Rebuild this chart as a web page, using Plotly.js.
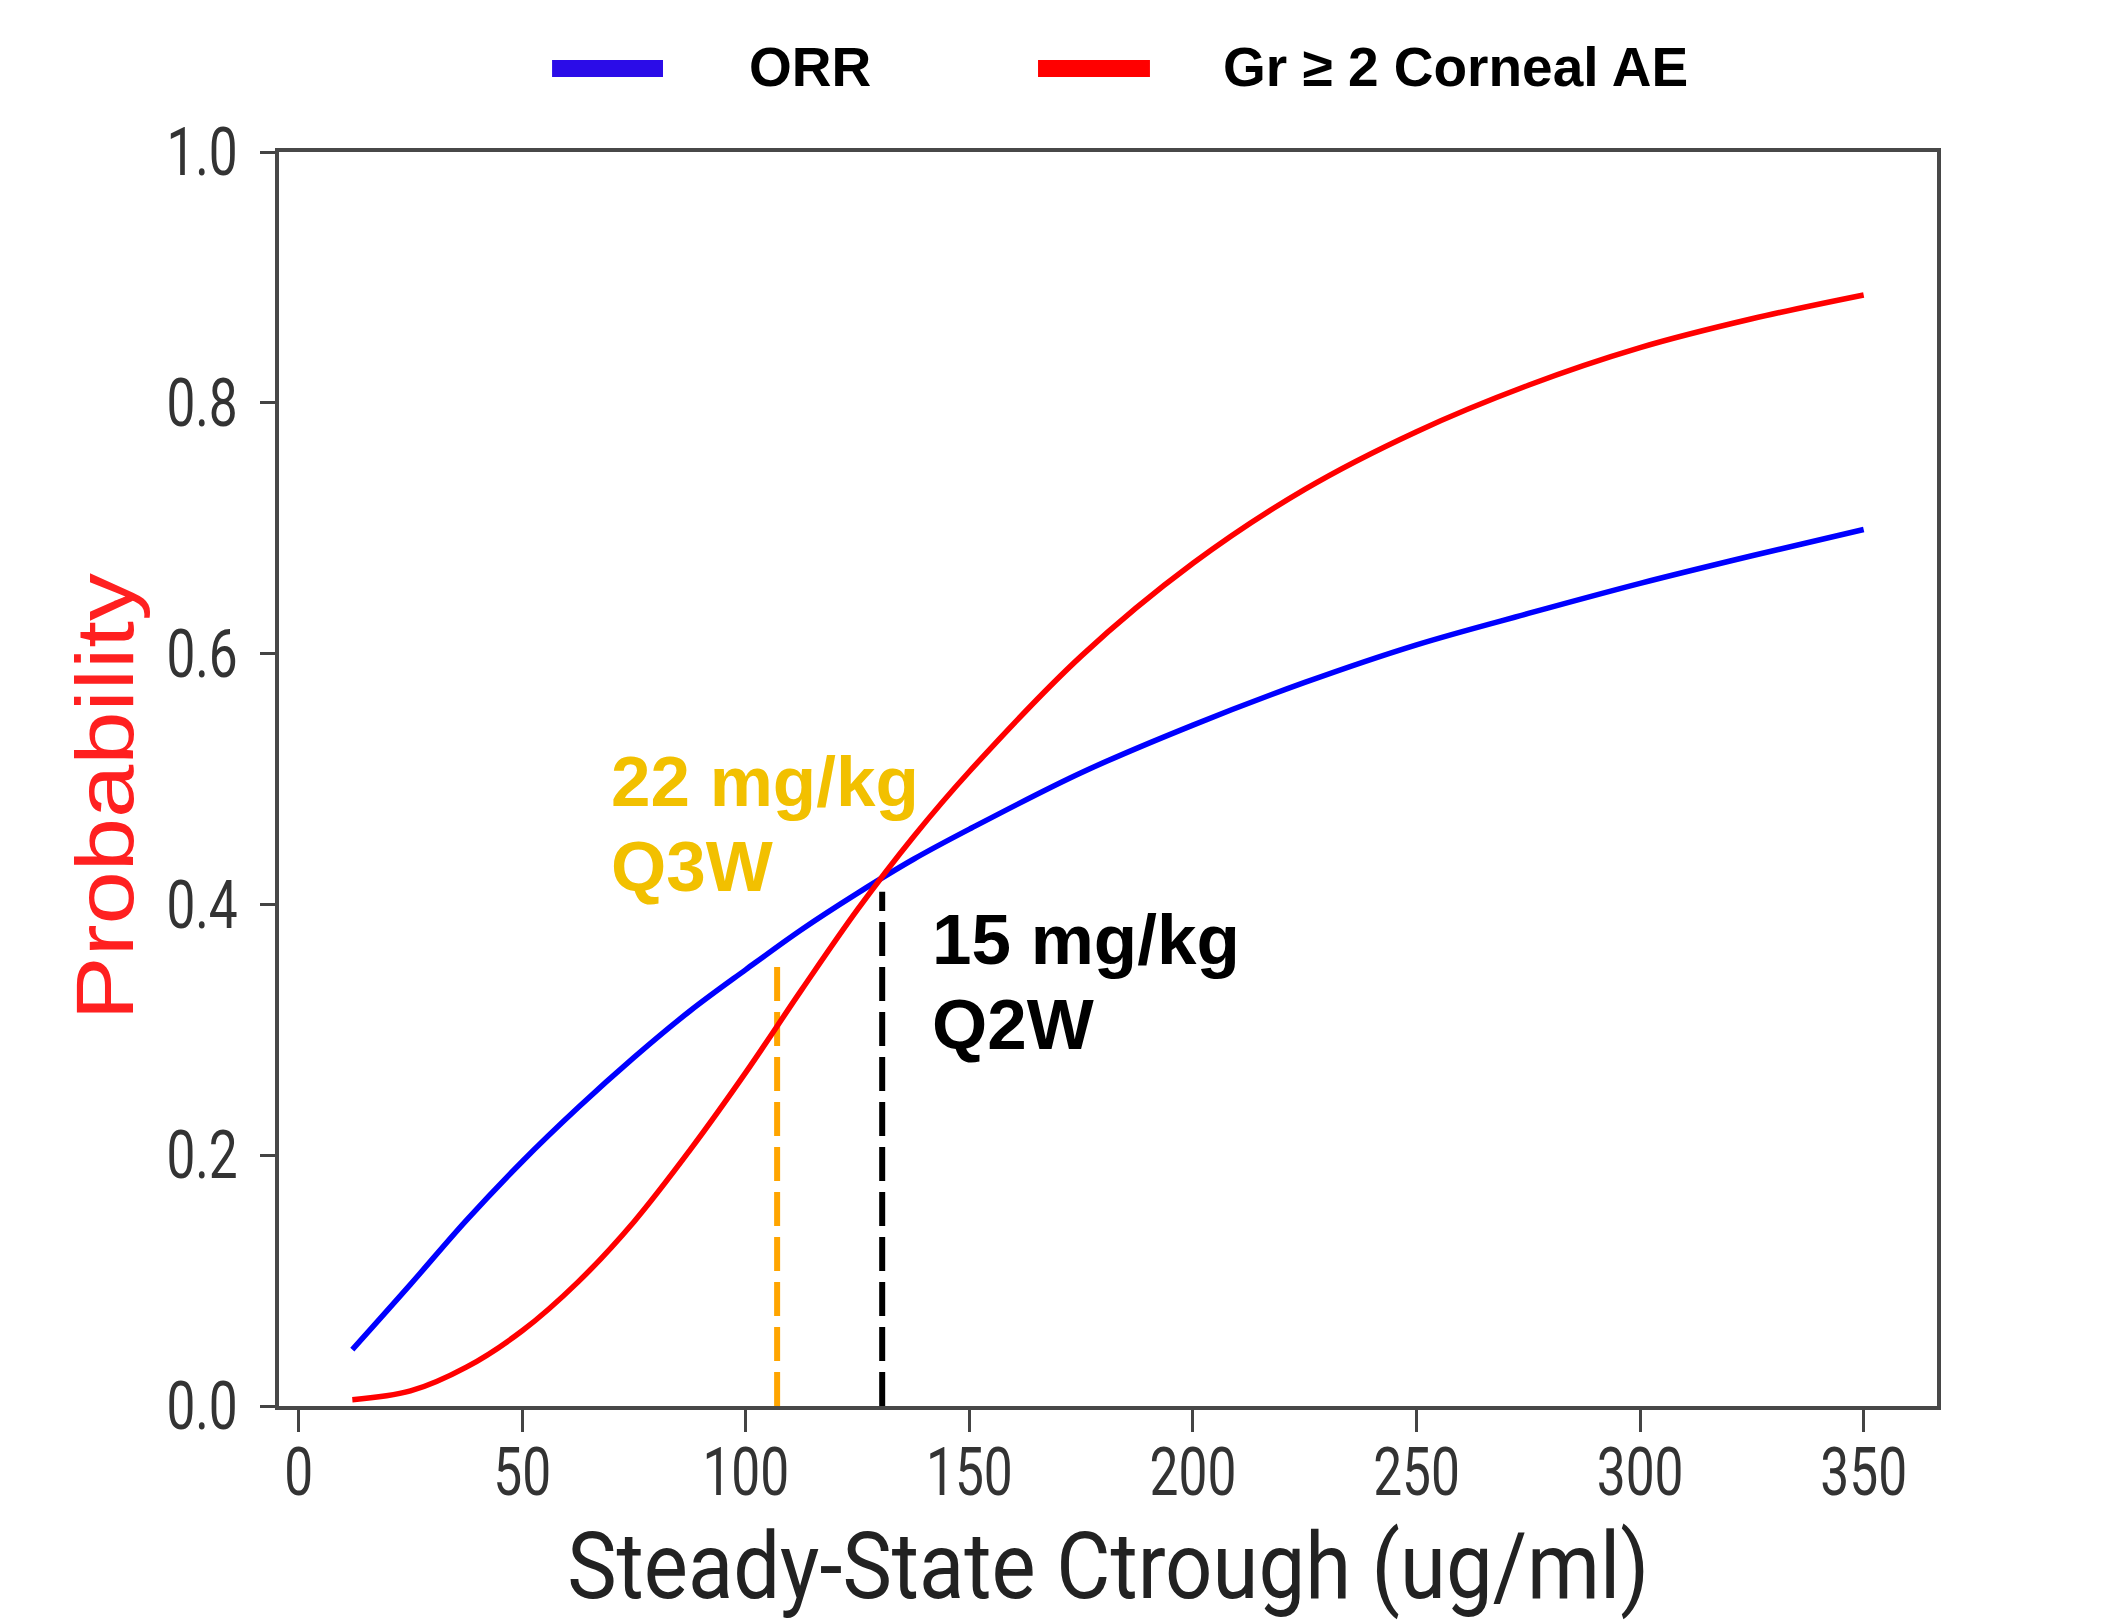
<!DOCTYPE html>
<html>
<head>
<meta charset="utf-8">
<script src="https://cdn.plot.ly/plotly-3.0.1.min.js"></script>
<style>
html, body { margin: 0; padding: 0; background: #ffffff; }
#chart { width: 2104px; height: 1624px; }
</style>
</head>
<body>
<div id="chart"></div>
<script>
// ---------------- data ----------------
const ctrough = [12, 25, 37.5, 50, 62.5, 75, 87.5, 100, 112.5, 125, 137.5, 150, 175, 200, 225, 250, 275, 300, 325, 350];
const orrProb = [0.045, 0.097, 0.148, 0.195, 0.238, 0.278, 0.315, 0.348, 0.380, 0.409, 0.436, 0.460, 0.505, 0.543, 0.577, 0.607, 0.632, 0.656, 0.678, 0.699];
const aeProb  = [0.005, 0.012, 0.031, 0.060, 0.099, 0.147, 0.204, 0.266, 0.332, 0.396, 0.454, 0.506, 0.598, 0.672, 0.731, 0.777, 0.814, 0.844, 0.867, 0.886];

const seriesNames  = ['ORR', 'Gr \u2265 2 Corneal AE'];
const seriesColors = ['#0000FF', '#FF0000'];
const legendColors = ['#2B0CE8', '#FF0000'];

const doseNames      = ['22 mg/kg Q3W', '15 mg/kg Q2W'];
const doseLabelLine1 = ['22 mg/kg', '15 mg/kg'];
const doseLabelLine2 = ['Q3W', 'Q2W'];
const doseCtrough    = [107, 130.5];
const doseTopProb    = [0.356, 0.41];
const doseLineColors = ['#FFA500', '#000000'];
const doseTextColors = ['#F2C000', '#000000'];

const xTickVals = [0, 50, 100, 150, 200, 250, 300, 350];
const yTickVals = [0.0, 0.2, 0.4, 0.6, 0.8, 1.0];
const xTitle = 'Steady-State Ctrough (ug/ml)';
const yTitle = 'Probability';

// ---------------- traces ----------------
const traces = [];
doseCtrough.forEach(function (c, i) {
  traces.push({
    type: 'scatter', mode: 'lines', name: doseNames[i], showlegend: false,
    x: [c, c], y: [0, doseTopProb[i]],
    line: { color: doseLineColors[i], width: 6, dash: '34px,11px' },
    hoverinfo: 'skip'
  });
});
[orrProb, aeProb].forEach(function (vals, i) {
  traces.push({
    type: 'scatter', mode: 'lines', name: seriesNames[i], showlegend: false,
    x: ctrough, y: vals,
    line: { color: seriesColors[i], width: 5.5, shape: 'spline', smoothing: 1 }
  });
});

// ---------------- layout helpers ----------------
const annotations = [];
const shapes = [];

// custom legend (swatch + bold label), placed above the plot
const legendSwatchX = [[0.1647, 0.2316], [0.4578, 0.5253]];
const legendTextX = [0.2823, 0.5682];
seriesNames.forEach(function (n, i) {
  shapes.push({
    type: 'rect', xref: 'paper', yref: 'paper',
    x0: legendSwatchX[i][0], x1: legendSwatchX[i][1], y0: 1.0598, y1: 1.0734,
    fillcolor: legendColors[i], line: { width: 0 }
  });
  annotations.push({
    xref: 'paper', yref: 'paper', x: legendTextX[i], y: 1.0674,
    xanchor: 'left', yanchor: 'middle', showarrow: false, text: n,
    font: { family: 'Liberation Sans, Arial, sans-serif', size: 55, color: '#000000', weight: 'bold' }
  });
});

// dose labels
const doseLabelPos = [
  { x: 69.4, y1: 0.498, y2: 0.430 },
  { x: 141.2, y1: 0.372, y2: 0.304 }
];
doseLabelLine1.forEach(function (t, i) {
  [t, doseLabelLine2[i]].forEach(function (txt, j) {
    annotations.push({
      xref: 'x', yref: 'y', x: doseLabelPos[i].x, y: j === 0 ? doseLabelPos[i].y1 : doseLabelPos[i].y2,
      xanchor: 'left', yanchor: 'middle', showarrow: false, text: txt,
      font: { family: 'Liberation Sans, Arial, sans-serif', size: 71, color: doseTextColors[i], weight: 'bold' }
    });
  });
});

// axis titles
annotations.push({
  xref: 'paper', yref: 'paper', x: 0.5, y: -0.128, xanchor: 'center', yanchor: 'middle',
  showarrow: false, text: xTitle,
  font: { family: 'Roboto, sans-serif', size: 92, color: '#222222' }
});
annotations.push({
  xref: 'paper', yref: 'paper', x: -0.1055, y: 0.4856, xanchor: 'center', yanchor: 'middle',
  showarrow: false, text: yTitle, textangle: -90,
  font: { family: 'Liberation Sans, Arial, sans-serif', size: 82, color: '#FF2020' }
});

const axisCommon = {
  showgrid: false, zeroline: false, showline: true, mirror: true,
  linecolor: '#484848', linewidth: 4,
  ticks: 'outside', tickcolor: '#444444', tickwidth: 3,
  tickfont: { family: 'Roboto, sans-serif', size: 66, color: '#333333' }
};

const layout = {
  width: 2104, height: 1624,
  paper_bgcolor: '#ffffff', plot_bgcolor: '#ffffff',
  margin: { l: 279, r: 167, t: 152, b: 218 },
  showlegend: false,
  xaxis: Object.assign({}, axisCommon, {
    range: [-4.4, 366.4], tickvals: xTickVals, ticklen: 22, ticklabelstandoff: -16
  }),
  yaxis: Object.assign({}, axisCommon, {
    range: [0, 1], tickvals: yTickVals, tickformat: '.1f', ticklen: 15, ticklabelstandoff: 9
  }),
  annotations: annotations,
  shapes: shapes
};

// the reference's axis texts are horizontally condensed; reproduce that
function condense(gd) {
  gd.querySelectorAll('.xtick text, .ytick text').forEach(function (t) {
    const w = t.getComputedTextLength();
    t.setAttribute('textLength', (w * 0.78).toFixed(1));
    t.setAttribute('lengthAdjust', 'spacingAndGlyphs');
  });
  gd.querySelectorAll('text.annotation-text').forEach(function (t) {
    if (t.textContent === xTitle) {
      t.setAttribute('textLength', '1082');
      t.setAttribute('lengthAdjust', 'spacingAndGlyphs');
    } else if (t.textContent === yTitle) {
      t.setAttribute('textLength', '447');
      t.setAttribute('lengthAdjust', 'spacingAndGlyphs');
    }
  });
}

Plotly.newPlot('chart', traces, layout, { staticPlot: true, displayModeBar: false }).then(condense);
</script>
</body>
</html>
